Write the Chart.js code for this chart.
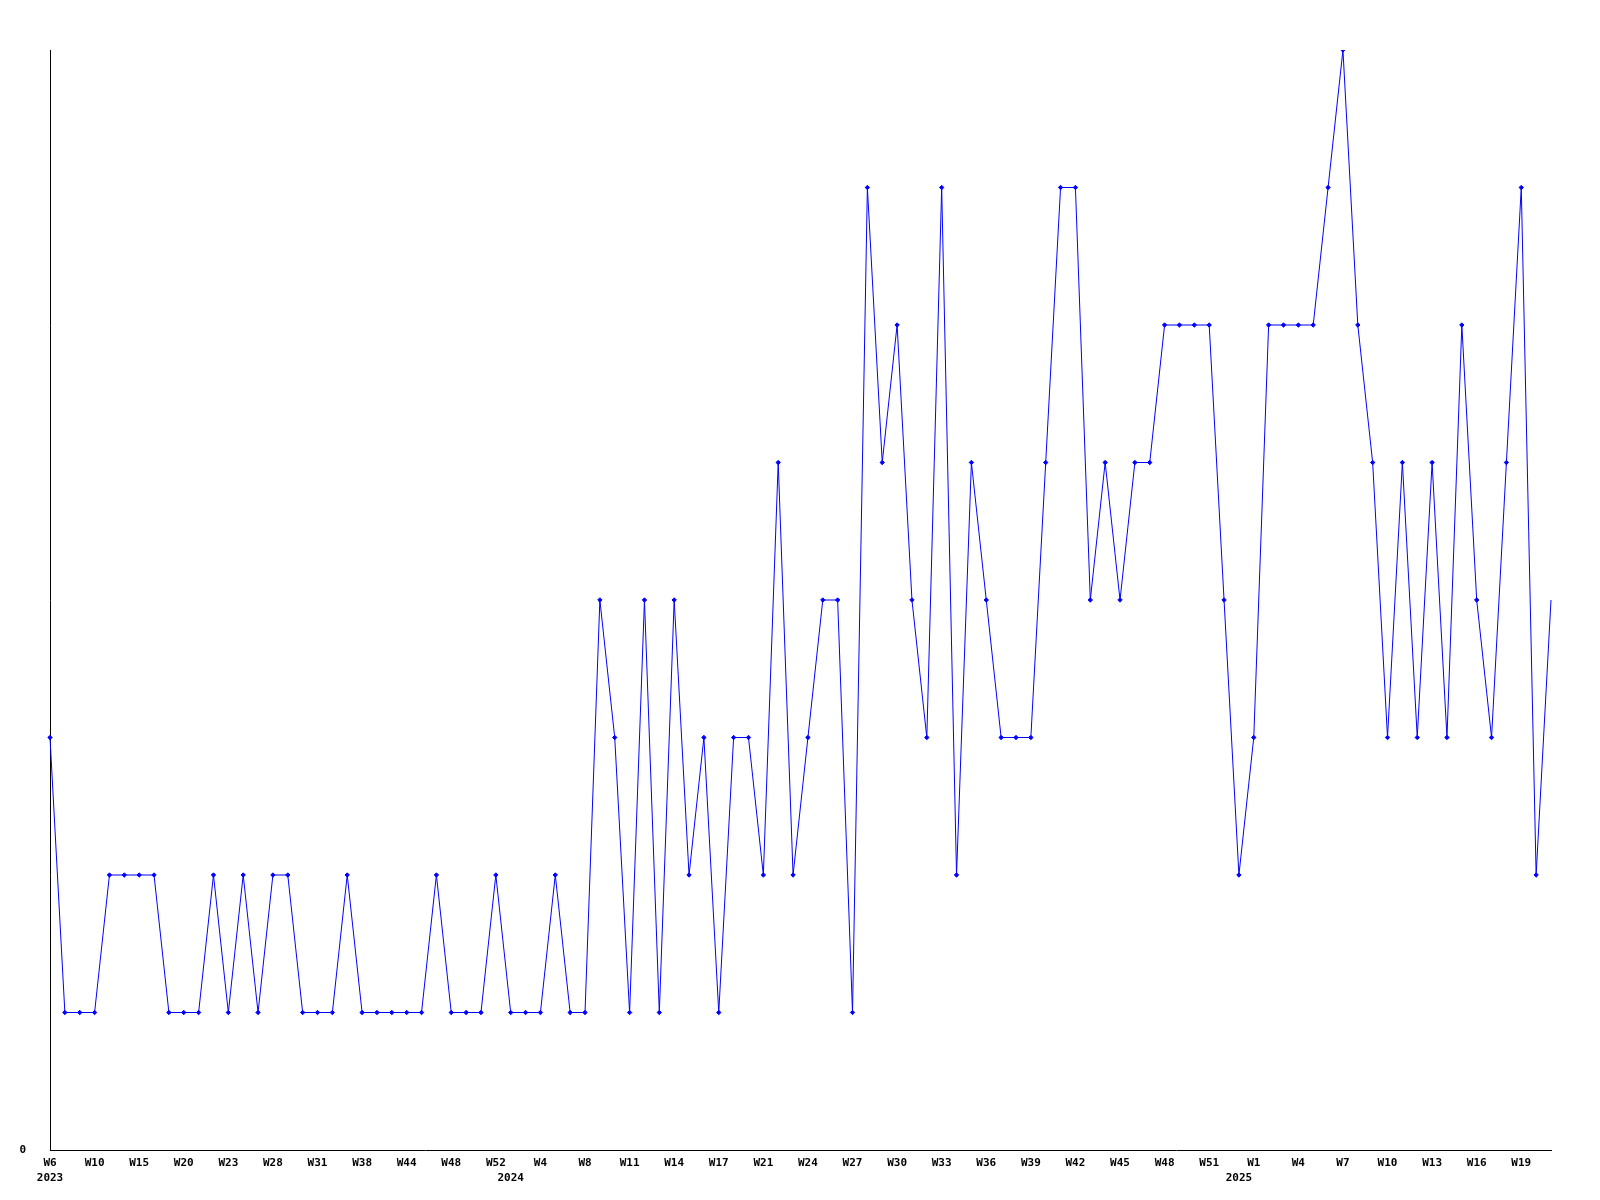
<!DOCTYPE html>
<html>
<head>
<meta charset="utf-8">
<script src="https://cdn.jsdelivr.net/npm/chart.js@4/dist/chart.umd.min.js"></script>
<style>
  html, body { margin: 0; padding: 0; background: #fff; }
  #wrap { width: 1600px; height: 1200px; position: relative; }
</style>
</head>
<body>
<div id="wrap"><canvas id="weekChart"></canvas></div>
<script>
// semanas com dados (nem todas as semanas aparecem)
const years = [
    2023, 2023, 2023, 2023, 2023, 2023, 2023, 2023, 2023, 2023,
    2023, 2023, 2023, 2023, 2023, 2023, 2023, 2023, 2023, 2023,
    2023, 2023, 2023, 2023, 2023, 2023, 2023, 2023, 2023, 2023,
    2023, 2024, 2024, 2024, 2024, 2024, 2024, 2024, 2024, 2024,
    2024, 2024, 2024, 2024, 2024, 2024, 2024, 2024, 2024, 2024,
    2024, 2024, 2024, 2024, 2024, 2024, 2024, 2024, 2024, 2024,
    2024, 2024, 2024, 2024, 2024, 2024, 2024, 2024, 2024, 2024,
    2024, 2024, 2024, 2024, 2024, 2024, 2024, 2024, 2024, 2024,
    2025, 2025, 2025, 2025, 2025, 2025, 2025, 2025, 2025, 2025,
    2025, 2025, 2025, 2025, 2025, 2025, 2025, 2025, 2025, 2025,
    2025, 2025
];
const weeks = [
    6, 7, 9, 10, 12, 13, 15, 17, 18, 20,
    21, 22, 23, 25, 26, 28, 29, 30, 31, 33,
    35, 38, 40, 42, 44, 45, 46, 48, 49, 51,
    52, 1, 2, 4, 6, 7, 8, 9, 10, 11,
    12, 13, 14, 15, 16, 17, 18, 20, 21, 22,
    23, 24, 25, 26, 27, 28, 29, 30, 31, 32,
    33, 34, 35, 36, 37, 38, 39, 40, 41, 42,
    43, 44, 45, 46, 47, 48, 49, 50, 51, 52,
    0, 1, 2, 3, 4, 5, 6, 7, 8, 9,
    10, 11, 12, 13, 14, 15, 16, 17, 18, 19,
    20, 21
];
const counts = [
    3, 1, 1, 1, 2, 2, 2, 2, 1, 1,
    1, 2, 1, 2, 1, 2, 2, 1, 1, 1,
    2, 1, 1, 1, 1, 1, 2, 1, 1, 1,
    2, 1, 1, 1, 2, 1, 1, 4, 3, 1,
    4, 1, 4, 2, 3, 1, 3, 3, 2, 5,
    2, 3, 4, 4, 1, 7, 5, 6, 4, 3,
    7, 2, 5, 4, 3, 3, 3, 5, 7, 7,
    4, 5, 4, 5, 5, 6, 6, 6, 6, 4,
    2, 3, 6, 6, 6, 6, 7, 8, 6, 5,
    3, 5, 3, 5, 3, 6, 4, 3, 5, 7,
    2, 4
];
const yMax = 8;
const labelStep = 3;

// rótulos: semana a cada 3 pontos, ano embaixo da primeira semana de cada ano
const labels = weeks.map((w, i) => {
    const txt = (i % labelStep === 0) ? `W${w}` : '';
    if (i === 0 || years[i] !== years[i - 1]) {
        return [txt, String(years[i])];
    }
    return txt;
});

const tickFont = { family: '"DejaVu Sans Mono", monospace', size: 11, weight: 'bold', lineHeight: 1.35 };

const ctx = document.getElementById('weekChart').getContext('2d');
new Chart(ctx, {
    type: 'line',
    data: {
        labels: labels,
        datasets: [{
            data: counts,
            borderColor: '#0000ff',
            backgroundColor: '#0000ff',
            borderWidth: 1,
            tension: 0,
            fill: false,
            pointStyle: 'rectRot',
            pointRadius: (c) => c.dataIndex === counts.length - 1 ? 0 : 2.2,
            pointBorderWidth: 1,
            pointBorderColor: '#0000ff',
            pointBackgroundColor: '#0000ff'
        }]
    },
    options: {
        responsive: true,
        maintainAspectRatio: false,
        animation: false,
        layout: { padding: { top: 50, right: 49, left: 0, bottom: 0 } },
        plugins: {
            legend: { display: false },
            tooltip: { enabled: false }
        },
        scales: {
            x: {
                offset: false,
                grid: { display: true, drawOnChartArea: false, drawTicks: false },
                border: { display: true, color: '#000', width: 1 },
                ticks: {
                    autoSkip: false,
                    maxRotation: 0,
                    minRotation: 0,
                    padding: 6,
                    color: '#000',
                    font: tickFont
                },
                afterFit: (scale) => { scale.height = 50; }
            },
            y: {
                min: 0,
                max: yMax,
                grid: { display: true, drawOnChartArea: false, drawTicks: false },
                border: { display: true, color: '#000', width: 1 },
                afterBuildTicks: (scale) => { scale.ticks = [{ value: 0 }]; },
                ticks: {
                    padding: 24,
                    color: '#000',
                    font: tickFont,
                    callback: (v) => String(v)
                },
                afterFit: (scale) => { scale.width = 50; }
            }
        }
    }
});
</script>
</body>
</html>
